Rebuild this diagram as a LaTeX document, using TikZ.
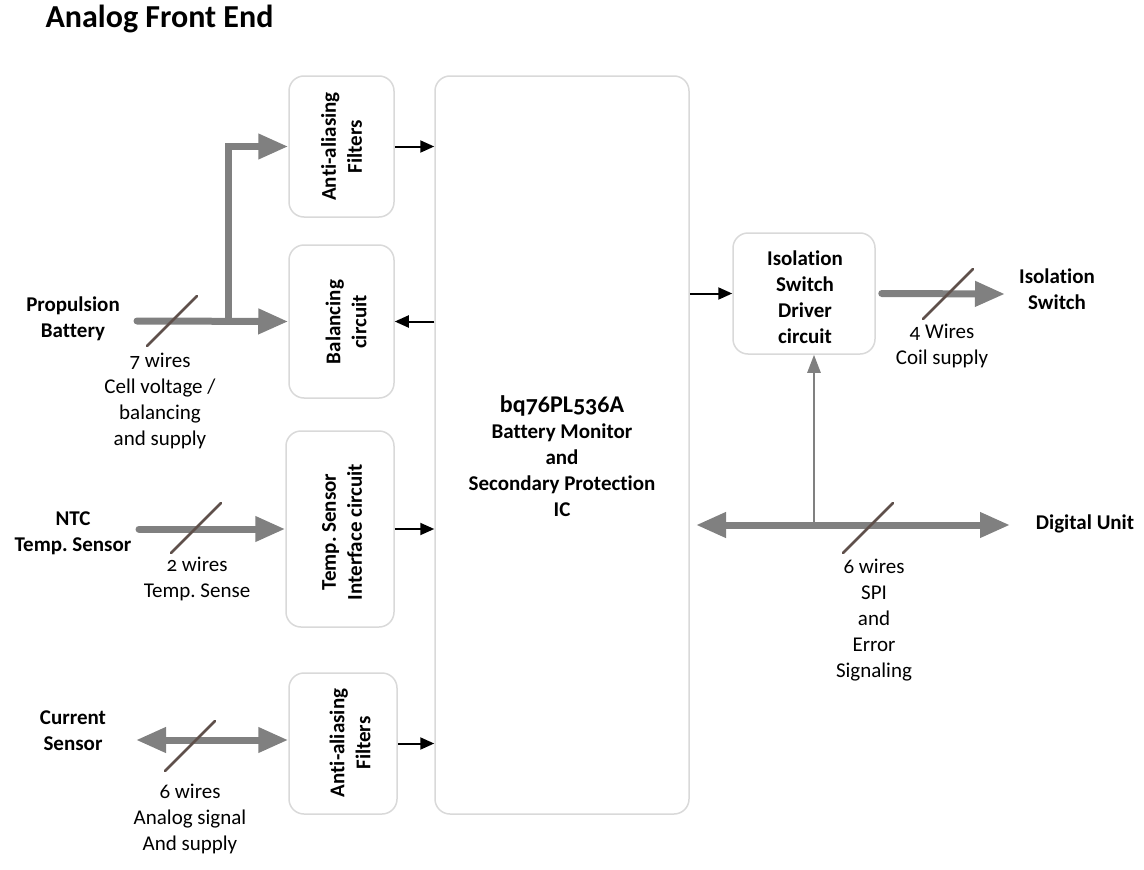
\documentclass[tikz,border=0pt]{standalone}
\usepackage{fontspec}
\setmainfont{Carlito}[Numbers=OldStyle, Ligatures=CommonOff]
\usetikzlibrary{arrows.meta}
\definecolor{boxgray}{RGB}{217,217,217}
\definecolor{busgray}{RGB}{128,128,128}
\definecolor{slashbrown}{RGB}{95,80,75}
\tikzset{
  blk/.style={draw=boxgray, line width=1.5pt, rounded corners=15pt, inner sep=0pt},
  lbl/.style={font=\fontsize{21}{26}\selectfont\bfseries, align=center},
  wire/.style={font=\fontsize{21}{26}\selectfont, align=center},
  sig/.style={line width=2pt, -{Triangle[length=14pt,width=12pt]}},
  bus/.style={busgray, line width=7pt, line cap=round, -{Triangle[length=30pt,width=24pt]}},
  dbus/.style={bus, {Triangle[length=30pt,width=24pt]}-{Triangle[length=30pt,width=24pt]}},
  slash/.style={slashbrown, line width=2.5pt, line cap=round}
}
\frenchspacing
\begin{document}
\begin{tikzpicture}[x=1pt,y=-1pt]
\useasboundingbox (0,0) rectangle (1144,870);
\node[anchor=west, font=\fontsize{32}{36}\selectfont\bfseries] (title) at (42,19) {Analog Front End};
% blocks
\node[blk, minimum width=105pt, minimum height=141pt] (aaf1) at (341.5,146.5) {};
\node[blk, minimum width=105pt, minimum height=153pt] (bal) at (341.5,321.5) {};
\node[blk, minimum width=108pt, minimum height=196pt] (tsi) at (340,529) {};
\node[blk, minimum width=108pt, minimum height=141pt] (aaf2) at (343,743.5) {};
\node[blk, minimum width=254pt, minimum height=738pt] (ic) at (562,445) {};
\node[blk, minimum width=142pt, minimum height=121pt] (isd) at (804,293.5) {};
\node[lbl, rotate=90] (aaf1-t) at (aaf1) {Anti-aliasing\\Filters};
\node[lbl, rotate=90] (bal-t) at (346,322) {Balancing\\circuit};
\node[lbl, rotate=90] (tsi-t) at (342,532) {Temp. Sensor\\Interface circuit};
\node[lbl, rotate=90] (aaf2-t) at (350,743) {Anti-aliasing\\Filters};
\node[lbl] (ic-t) at (562,456) {{\fontsize{24}{27}\selectfont bq76PL536A}\\Battery Monitor\\and\\Secondary Protection\\IC};
\node[lbl] (isd-t) at (805,297) {Isolation\\Switch\\Driver\\circuit};
% outside parts
\node[lbl] (pbat) at (73,319) {Propulsion\\Battery};
\node[lbl] (ntc) at (73,533) {NTC\\Temp. Sensor};
\node[lbl] (csens) at (73,731) {Current\\Sensor};
\node[lbl] (iso) at (1057,289) {Isolation\\Switch};
\node[lbl] (du) at (1085,524) {Digital Unit};
\node[wire] (w7) at (160,401) {7 wires\\Cell voltage /\\balancing\\and supply};
\node[wire] (w2) at (197,579) {2 wires\\Temp. Sense};
\node[wire] (w6a) at (190,819) {6 wires\\Analog signal\\And supply};
\node[wire] (w4) at (942,346) {4 Wires\\Coil supply};
\node[wire] (w6d) at (874,620) {6 wires\\SPI\\and\\Error\\Signaling};
\coordinate (pb-end) at (137,321);
\coordinate (split) at (228,321);
\coordinate (ntc-end) at (139,529);
\coordinate (cs-end) at (136,740);
\coordinate (iso-end) at (1005,294);
\coordinate (du-l) at (696,525);
\coordinate (du-r) at (1010,525);
\coordinate (tap) at (814,525);
% signals
\draw[sig] (aaf1.east) -- (aaf1.east -| ic.west);
\draw[sig] (bal.east -| ic.west) -- (bal.east);
\draw[sig] (tsi.east) -- (tsi.east -| ic.west);
\draw[sig] (aaf2.east) -- (aaf2.east -| ic.west);
\draw[sig] (isd.west -| ic.east) -- (isd.west);
% wire buses
\draw[bus] (pb-end) -- (bal.west);
\draw[bus, line cap=butt] (split) |- (aaf1.west);
\draw[bus] (ntc-end) -- (tsi.west);
\draw[dbus] (cs-end) -- (cs-end -| aaf2.west);
\draw[bus] ([xshift=6pt]isd.east) -- (iso-end);
\draw[dbus] (du-l) -- (du-r);
\draw[busgray, line width=2.5pt, -{Triangle[length=18pt,width=13pt]}] (tap) -- (tap |- isd.south);
\foreach \x/\y in {172/321, 196/528, 190/746, 948/294, 868/528}
  \draw[slash] ({\x-25},{\y+25}) -- ({\x+25},{\y-25});
\end{tikzpicture}
\end{document}
